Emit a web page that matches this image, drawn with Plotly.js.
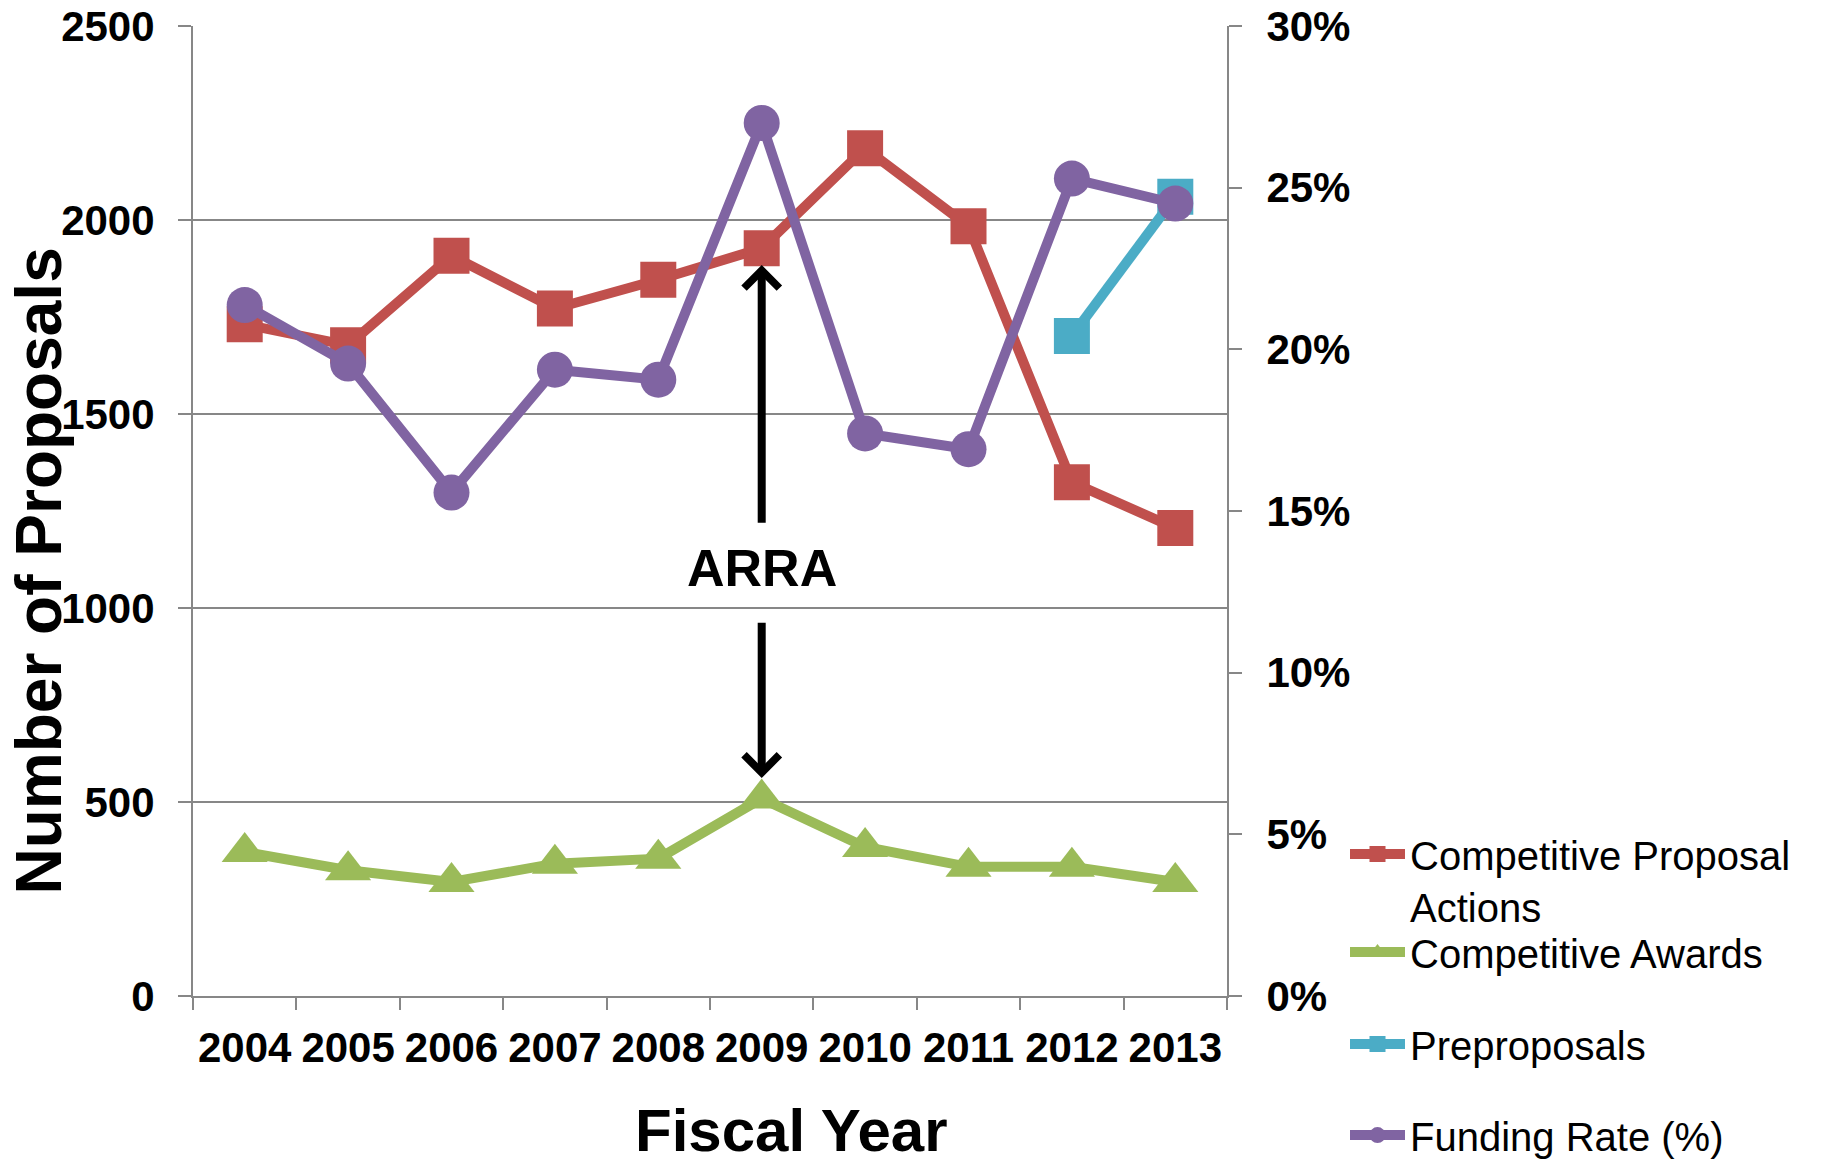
<!DOCTYPE html>
<html><head><meta charset="utf-8">
<script src="https://cdn.plot.ly/plotly-3.0.1.min.js"></script>
<style>html,body{margin:0;padding:0;background:#fff}#chart{width:1828px;height:1163px}</style>
</head><body><div id="chart"></div>
<script>
// ---- data ----
const years = ['2004','2005','2006','2007','2008','2009','2010','2011','2012','2013'];
const proposalActions = [1731, 1677, 1908, 1772, 1846, 1927, 2185, 1984, 1324, 1206];
const competitiveAwards = [371, 324, 294, 341, 354, 509, 384, 333, 333, 294];
const preproposals = [null, null, null, null, null, null, null, null, 1701, 2060];
const fundingRate = [21.37, 19.56, 15.57, 19.37, 19.06, 27.0, 17.40, 16.91, 25.28, 24.51];
const seriesNames = ['Competitive Proposal<br>Actions', 'Competitive Awards', 'Preproposals', 'Funding Rate (%)'];
const leftTicks = [0, 500, 1000, 1500, 2000, 2500];
const rightTicks = [0, 5, 10, 15, 20, 25, 30];
const rightTickText = ['0%', '5%', '10%', '15%', '20%', '25%', '30%'];
const arraYear = '2009';
const arraLabelY = 1103;
const arraUpTail = 1216, arraUpTip = 1884;
const arraDownTail = 966, arraDownTip = 562;

// ---- style ----
const FONT = 'Liberation Sans, Arial, Helvetica, sans-serif';
const GRID = '#878787';
const RED = '#C0504D', GREEN = '#9BBB59', CYAN = '#4BACC6', PURPLE = '#8064A2';
const arraX = years.indexOf(arraYear);

const traces = [
  {x: years, y: proposalActions, name: seriesNames[0], type: 'scatter', mode: 'lines+markers',
   line: {color: RED, width: 10}, marker: {symbol: 'square', size: 36, color: RED}, legend: 'legend'},
  {x: years, y: competitiveAwards, name: seriesNames[1], type: 'scatter', mode: 'lines+markers',
   line: {color: GREEN, width: 10}, marker: {symbol: 'triangle-up', size: 40, color: GREEN}, legend: 'legend2'},
  {x: years, y: preproposals, name: seriesNames[2], type: 'scatter', mode: 'lines+markers',
   line: {color: CYAN, width: 10}, marker: {symbol: 'square', size: 36, color: CYAN}, legend: 'legend3', connectgaps: false},
  {x: years, y: fundingRate, name: seriesNames[3], type: 'scatter', mode: 'lines+markers', yaxis: 'y2',
   line: {color: PURPLE, width: 10}, marker: {symbol: 'circle', size: 36, color: PURPLE}, legend: 'legend4'}
];

const legendBase = {xref: 'container', yref: 'container', xanchor: 'left', yanchor: 'top',
  font: {family: FONT, size: 40, color: '#000'}, itemwidth: 55, valign: 'top',
  bgcolor: 'rgba(0,0,0,0)', borderwidth: 0, itemclick: false};
const legX = 1345 / 1828;
function legY(px) { return 1 - px / 1163; }

const tickFont = {family: FONT, size: 42, color: '#000', weight: 'bold'};

const layout = {
  width: 1828, height: 1163,
  paper_bgcolor: '#fff', plot_bgcolor: '#fff',
  margin: {l: 193, r: 601, t: 26, b: 167, pad: 0},
  showlegend: true,
  xaxis: {type: 'category', range: [-0.5, 9.5], showgrid: false, showline: true, linecolor: GRID, linewidth: 2,
    ticks: 'outside', tickson: 'boundaries', ticklen: 12, tickcolor: GRID, tickwidth: 2,
    tickfont: tickFont, tickangle: 0, ticklabelstandoff: 14, fixedrange: true},
  yaxis: {range: [0, 2500], tickmode: 'array', tickvals: leftTicks, showgrid: true, gridcolor: GRID, gridwidth: 2, zeroline: false,
    showline: true, linecolor: GRID, linewidth: 2, ticks: 'outside', ticklen: 13, tickcolor: GRID, tickwidth: 2,
    tickfont: tickFont, ticklabelstandoff: 15, fixedrange: true},
  yaxis2: {range: [0, 30], tickmode: 'array', tickvals: rightTicks, ticktext: rightTickText, overlaying: 'y', side: 'right',
    showgrid: false, zeroline: false,
    showline: true, linecolor: GRID, linewidth: 2, ticks: 'outside', ticklen: 13, tickcolor: GRID, tickwidth: 2,
    tickfont: tickFont, ticklabelstandoff: 16, fixedrange: true},
  legend: Object.assign({}, legendBase, {x: legX, y: legY(821.6)}),
  legend2: Object.assign({}, legendBase, {x: legX, y: legY(919.6)}),
  legend3: Object.assign({}, legendBase, {x: legX, y: legY(1011.6)}),
  legend4: Object.assign({}, legendBase, {x: legX, y: legY(1102.6)}),
  annotations: [
    {x: arraX, y: arraLabelY, xref: 'x', yref: 'y', text: 'ARRA', showarrow: false,
     font: {family: FONT, size: 52, color: '#000', weight: 'bold'}},
    {x: arraX, y: arraUpTip, xref: 'x', yref: 'y', ax: 0, ay: arraUpTail, axref: 'pixel', ayref: 'y',
     text: '', showarrow: true, arrowhead: 4, arrowsize: 0.85, arrowwidth: 8, arrowcolor: '#000'},
    {x: arraX, y: arraDownTip, xref: 'x', yref: 'y', ax: 0, ay: arraDownTail, axref: 'pixel', ayref: 'y',
     text: '', showarrow: true, arrowhead: 4, arrowsize: 0.85, arrowwidth: 8, arrowcolor: '#000'},
    {x: -0.1486, y: 0.438, xref: 'paper', yref: 'paper', text: 'Number of Proposals', textangle: -90, showarrow: false,
     xanchor: 'center', yanchor: 'middle', font: {family: FONT, size: 64, color: '#000', weight: 'bold'}},
    {x: 0.5786, y: -0.1388, xref: 'paper', yref: 'paper', text: 'Fiscal Year', showarrow: false,
     xanchor: 'center', yanchor: 'middle', font: {family: FONT, size: 60, color: '#000', weight: 'bold'}}
  ]
};

Plotly.newPlot('chart', traces, layout, {displayModeBar: false, responsive: false});
</script>
</body></html>
